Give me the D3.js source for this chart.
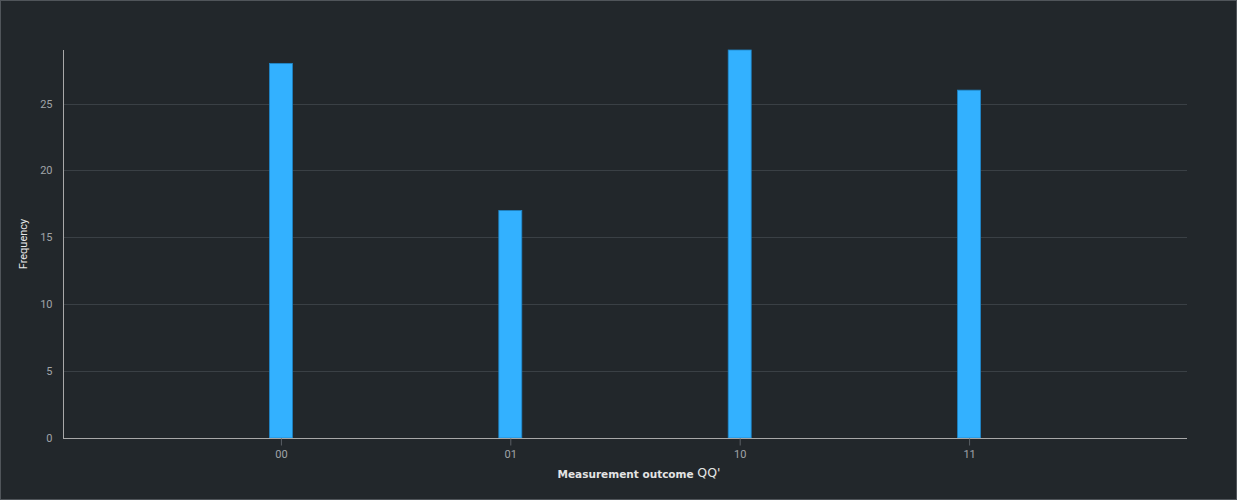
<!DOCTYPE html>
<html><head><meta charset="utf-8">
<script src="https://cdn.jsdelivr.net/npm/d3@7"></script>
<style>
html,body{margin:0;padding:0;background:#22272b;}
svg{display:block;}
</style></head>
<body>
<svg id="c" width="1237" height="500"></svg>
<script>
const categories = ["00", "01", "10", "11"];
const frequencies = [28, 17, 29, 26];
const yTicks = [0, 5, 10, 15, 20, 25];

const W = 1237, H = 500;
const m = {left: 63, right: 50, top: 50, bottom: 62};
const svg = d3.select("#c");
svg.append("rect").attr("x",0.5).attr("y",0.5).attr("width",W-1).attr("height",H-1)
  .attr("fill","#22272b").attr("stroke","#50555a");

const x = d3.scalePoint().domain(categories).range([m.left, W - m.right]).padding(0.95);
const y = d3.scaleLinear().domain([0, 29]).range([H - m.bottom, m.top]);
const font = "Roboto, 'Liberation Sans', sans-serif";

// gridlines
svg.append("g").selectAll("line").data(yTicks.filter(d=>d>0)).join("line")
  .attr("x1", m.left).attr("x2", W - m.right)
  .attr("y1", d => Math.round(y(d)) + 0.5).attr("y2", d => Math.round(y(d)) + 0.5)
  .attr("stroke", "#3a4045").attr("stroke-width", 1);

// bars
const bw = 23;
svg.append("g").selectAll("rect").data(categories).join("rect")
  .attr("x", (d) => x(d) - bw/2)
  .attr("y", (d,i) => y(frequencies[i]))
  .attr("width", bw)
  .attr("height", (d,i) => y(0) - y(frequencies[i]))
  .attr("fill", "#33b1ff").attr("stroke", "#1f86c8").attr("stroke-width", 0.8);

// y axis
const ya = svg.append("g").attr("transform", `translate(${m.left + 0.5},0)`)
  .call(d3.axisLeft(y).tickValues(yTicks).tickSize(0).tickPadding(11));
ya.select(".domain").attr("stroke", "#a8a8a8").attr("d", `M0,${m.top}V${y(0)}`);
ya.selectAll("text").attr("fill", "#a0a4a8").attr("font-size", 11).attr("font-family", font);

// x axis
const xa = svg.append("g").attr("transform", `translate(0,${y(0) + 0.5})`)
  .call(d3.axisBottom(x).tickSize(7).tickPadding(5));
xa.select(".domain").attr("stroke", "#a8a8a8").attr("d", `M${m.left},0H${W - m.right}`);
xa.selectAll(".tick line").attr("stroke", "#5a5f64");
xa.selectAll("text").attr("fill", "#a0a4a8").attr("font-size", 11).attr("font-family", font);

// titles
svg.append("text").attr("transform", `translate(27,${(m.top + y(0))/2}) rotate(-90)`)
  .attr("text-anchor", "middle").attr("fill", "#e8e8e8").attr("font-size", 11)
  .attr("font-family", font).text("Frequency");

const xt = svg.append("text").attr("x", 639).attr("y", 478)
  .attr("text-anchor", "middle").attr("fill", "#e4e4e4").attr("font-size", 10.5)
  .attr("font-weight", "bold").attr("font-family", "'DejaVu Sans', Verdana, sans-serif");
xt.append("tspan").text("Measurement outcome ");
xt.append("tspan").attr("font-size", 12.5).attr("font-weight", "normal").attr("dy", -1).text("QQ'");
</script>
</body></html>
